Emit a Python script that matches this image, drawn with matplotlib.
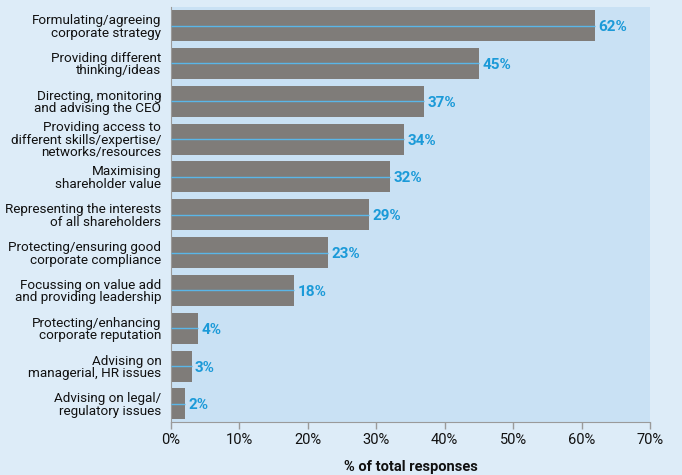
import matplotlib.pyplot as plt
from matplotlib import font_manager

categories = [
    "Formulating/agreeing\ncorporate strategy",
    "Providing different\nthinking/ideas",
    "Directing, monitoring\nand advising the CEO",
    "Providing access to\ndifferent skills/expertise/\nnetworks/resources",
    "Maximising\nshareholder value",
    "Representing the interests\nof all shareholders",
    "Protecting/ensuring good\ncorporate compliance",
    "Focussing on value add\nand providing leadership",
    "Protecting/enhancing\ncorporate reputation",
    "Advising on\nmanagerial, HR issues",
    "Advising on legal/\nregulatory issues",
]
values = [62, 45, 37, 34, 32, 29, 23, 18, 4, 3, 2]
xticks = [0, 10, 20, 30, 40, 50, 60, 70]

names = {f.name for f in font_manager.fontManager.ttflist}
family = "Roboto" if "Roboto" in names else "DejaVu Sans"
plt.rcParams["font.family"] = [family, "DejaVu Sans"]

outer_bg = "#ddecf8"
inner_bg = "#c9e1f4"
bar_col = "#7f7c79"
blue = "#1b9ad8"
grey = "#9a9a9a"
text_col = "#111111"

fig = plt.figure(figsize=(6.82, 4.75), dpi=100, facecolor=outer_bg)
ax = fig.add_axes([171 / 682, 1 - 422 / 475, 479 / 682, 415 / 475])
ax.set_facecolor(inner_bg)

y = list(range(len(values)))
ax.barh(y, values, height=0.82, color=bar_col, zorder=2)
ax.hlines(y, 0, values, color="#5ab6e8", lw=1, zorder=3)
for yi, v in zip(y, values):
    ax.text(v + 0.5, yi + 0.04, f"{v}%", va="center", ha="left", color=blue,
            fontsize=11, fontweight="bold")

ax.set_xlim(0, 70)
ax.set_ylim(10.48, -0.49)
ax.set_xticks(xticks)
ax.set_xticklabels([f"{t}%" for t in xticks], fontsize=10.5, color=text_col)
ax.set_yticks(y)
ax.set_yticklabels(categories, fontsize=9.7, color=text_col, linespacing=0.95)
ax.tick_params(axis="y", length=0, pad=7)
ax.tick_params(axis="x", length=5, color=grey, width=1, pad=3)
for s in ["top", "right"]:
    ax.spines[s].set_visible(False)
ax.spines["left"].set_color(grey)
ax.spines["bottom"].set_color(grey)
ax.set_xlabel("% of total responses", fontsize=10.5, fontweight="bold", labelpad=9,
              color="#111111")

fig.savefig("out.png", dpi=100, facecolor=outer_bg)
